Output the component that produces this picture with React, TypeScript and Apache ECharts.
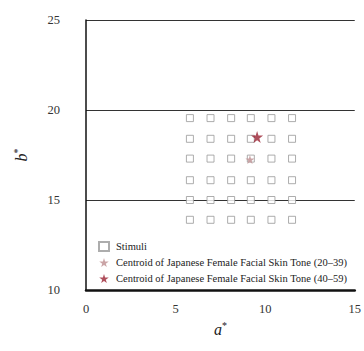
import React, { useEffect, useRef } from "react";
import * as echarts from "echarts";

const stimuliA = [5.8, 6.95, 8.1, 9.2, 10.35, 11.5];
const stimuliB = [13.9, 15.0, 16.1, 17.3, 18.4, 19.55];
const centroidYoung = [[9.15, 17.25]];
const centroidOld = [[9.55, 18.5]];
const xTicks = [0, 5, 10, 15];
const yTicks = [10, 15, 20, 25];
const legendNames = [
  "Stimuli",
  "Centroid of Japanese Female Facial Skin Tone (20\u201339)",
  "Centroid of Japanese Female Facial Skin Tone (40\u201359)",
];

const FONT = "'Liberation Serif', 'Times New Roman', serif";
const STAR = "path://M50,0 L61,35 L98,35 L68,57 L79,91 L50,70 L21,91 L32,57 L2,35 L39,35 Z";

export default function App() {
  const ref = useRef<HTMLDivElement>(null);
  useEffect(() => {
    if (!ref.current) return;
    const chart = echarts.init(ref.current, null, { renderer: "svg" });
    const stimuli: number[][] = [];
    stimuliB.forEach((b) => stimuliA.forEach((a) => stimuli.push([a, b])));
    chart.setOption({
      animation: false,
      backgroundColor: "#fff",
      grid: { left: 86, top: 20, right: 6, bottom: 61 },
      xAxis: {
        type: "value",
        min: xTicks[0],
        max: xTicks[xTicks.length - 1],
        interval: 5,
        name: "{i|a}{s|*}",
        nameLocation: "middle",
        nameGap: 30,
        nameTextStyle: {
          rich: {
            i: { fontFamily: FONT, fontStyle: "italic", fontSize: 16, color: "#222" },
            s: { fontFamily: FONT, fontSize: 10, color: "#222", verticalAlign: "top", padding: [0, 0, 8, 0] },
          },
        },
        axisLine: { show: true, lineStyle: { color: "#111", width: 2.5 } },
        axisTick: { show: false },
        splitLine: { show: false },
        axisLabel: { fontFamily: FONT, fontSize: 12.5, color: "#333", margin: 12 },
      },
      yAxis: {
        type: "value",
        min: yTicks[0],
        max: yTicks[yTicks.length - 1],
        interval: 5,
        name: "{i|b}{s|*}",
        nameLocation: "middle",
        nameGap: 56,
        nameTextStyle: {
          rich: {
            i: { fontFamily: FONT, fontStyle: "italic", fontSize: 16, color: "#222" },
            s: { fontFamily: FONT, fontSize: 10, color: "#222", verticalAlign: "top", padding: [0, 0, 8, 0] },
          },
        },
        axisLine: { show: true, lineStyle: { color: "#111", width: 1.5 } },
        axisTick: { show: false },
        splitLine: { show: true, lineStyle: { color: "#333", width: 1 } },
        axisLabel: { fontFamily: FONT, fontSize: 12.5, color: "#333", margin: 26 },
      },
      legend: {
        orient: "vertical",
        left: 93,
        top: 236,
        itemWidth: 10,
        itemHeight: 9,
        itemGap: 5,
        textStyle: { fontFamily: FONT, fontSize: 10.5, color: "#222", padding: [0, 0, 0, 2] },
        data: legendNames,
      },
      series: [
        {
          name: legendNames[0],
          type: "scatter",
          symbol: "rect",
          symbolSize: 7,
          itemStyle: { color: "#fff", borderColor: "#999", borderWidth: 1 },
          data: stimuli,
          z: 2,
        },
        {
          name: legendNames[1],
          type: "scatter",
          symbol: STAR,
          symbolSize: 9,
          itemStyle: { color: "#c49a9c", opacity: 0.9 },
          data: centroidYoung,
          z: 3,
        },
        {
          name: legendNames[2],
          type: "scatter",
          symbol: STAR,
          symbolSize: 12,
          itemStyle: { color: "#9b2333" },
          data: centroidOld,
          z: 4,
        },
      ],
    });
    return () => chart.dispose();
  }, []);
  return (
    <div
      ref={ref}
      style={{ position: "absolute", left: 0, top: 0, width: 364, height: 351 }}
    />
  );
}
